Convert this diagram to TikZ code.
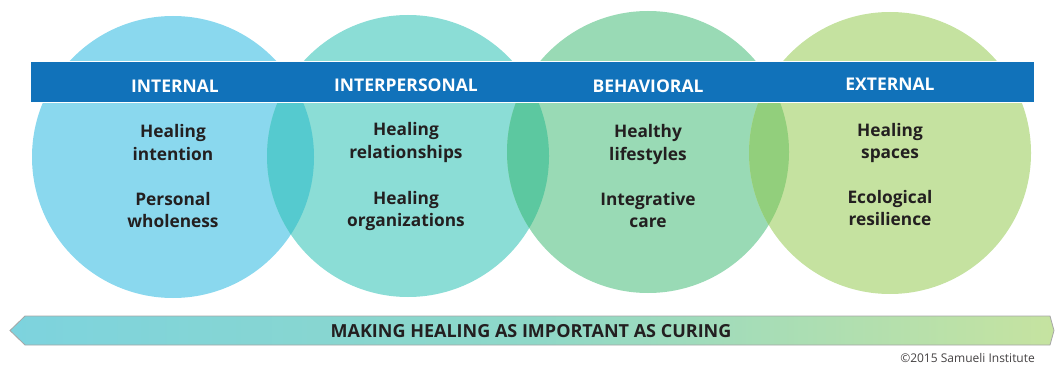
\documentclass[tikz,border=0pt]{standalone}
\usepackage{fontspec}
\setmainfont{Open Sans}
\definecolor{cA}{HTML}{8AD8EE}
\definecolor{cB}{HTML}{8BDDD6}
\definecolor{cC}{HTML}{99DAB5}
\definecolor{cD}{HTML}{C5E2A0}
\definecolor{oAB}{HTML}{55CACF}
\definecolor{oBC}{HTML}{5CC8A0}
\definecolor{oCD}{HTML}{92CF7C}
\definecolor{band}{HTML}{1172BA}
\definecolor{ink}{HTML}{231F20}
\definecolor{arL}{HTML}{7DD3DE}
\definecolor{arM}{HTML}{8ED8C8}
\definecolor{arR}{HTML}{C6E3A0}
\tikzset{
  ring/.style={circle,minimum size=282pt,inner sep=0pt},
  head/.style={anchor=base,text=white,font=\fontsize{17.5}{20}\selectfont\bfseries,inner sep=0pt},
  item/.style={anchor=base,text=ink,font=\fontsize{17.3}{20}\selectfont\bfseries,inner sep=0pt},
}
\begin{document}
\begin{tikzpicture}[x=1pt,y=-1pt]
\useasboundingbox (0,0) rectangle (1056,366);
% circles
\node[ring,fill=cA] (c1) at (173,157) {};
\node[ring,fill=cB] (c2) at (408,156) {};
\node[ring,fill=cC] (c3) at (648,152) {};
\node[ring,fill=cD] (c4) at (890,153) {};
\begin{scope}
  \clip (c1.center) circle[radius=141pt];
  \fill[oAB] (c2.center) circle[radius=141pt];
\end{scope}
\begin{scope}
  \clip (c2.center) circle[radius=141pt];
  \fill[oBC] (c3.center) circle[radius=141pt];
\end{scope}
\begin{scope}
  \clip (c3.center) circle[radius=141pt];
  \fill[oCD] (c4.center) circle[radius=141pt];
\end{scope}
% band
\node[draw=white,line width=1pt,fill=band,minimum width=1004pt,minimum height=41pt,inner sep=0pt] (bandbox) at (532,82.5) {};
\node[head] (h1) at (175,93) {INTERNAL};
\node[head] (h2) at (406,92) {INTERPERSONAL};
\node[head] (h3) at (648,93) {BEHAVIORAL};
\node[head] (h4) at (890,91) {EXTERNAL};
% items
\node[item] (a1) at (173,138) {Healing};
\node[item] (a2) at (173,160.5) {intention};
\node[item] (a3) at (173,205) {Personal};
\node[item] (a4) at (173,227) {wholeness};
\node[item] (b1) at (406,136) {Healing};
\node[item] (b2) at (406,158.5) {relationships};
\node[item] (b3) at (406,204) {Healing};
\node[item] (b4) at (406,226) {organizations};
\node[item] (d1) at (648,138) {Healthy};
\node[item] (d2) at (648,160.5) {lifestyles};
\node[item] (d3) at (648,205) {Integrative};
\node[item] (d4) at (648,227) {care};
\node[item] (e1) at (890,137) {Healing};
\node[item] (e2) at (890,159) {spaces};
\node[item] (e3) at (890,203) {Ecological};
\node[item] (e4) at (890,225) {resilience};
% bottom arrow
\shade[left color=arL,right color=arR,middle color=arM]
  (10,330.5) -- (25,316) -- (1050,316) -- (1054,330.5) -- (1050,345) -- (25,345) -- cycle;
\draw[color=black!35,line width=0.8pt]
  (10,330.5) -- (25,316) -- (1050,316) -- (1054,330.5) -- (1050,345) -- (25,345) -- cycle;
\node[anchor=base,text=ink,font=\fontsize{18}{20}\selectfont\bfseries,inner sep=0pt] (arrowtext) at (531,337.5) {MAKING HEALING AS IMPORTANT AS CURING};
\node[anchor=base east,text=ink!85,font=\fontsize{12}{14}\selectfont,inner sep=0pt] (copy) at (1035,362) {©2015 Samueli Institute};
\end{tikzpicture}
\end{document}
